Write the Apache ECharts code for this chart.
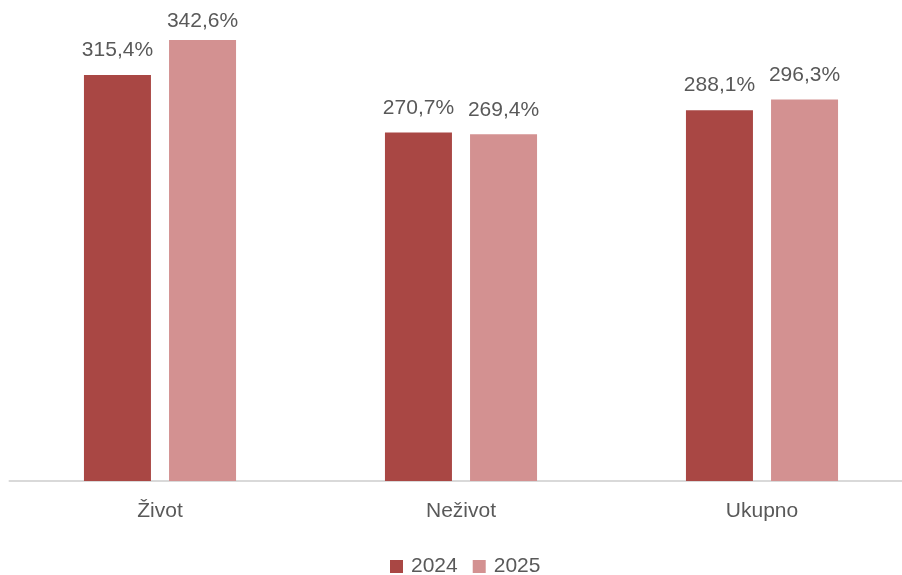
<!DOCTYPE html>
<html><head><meta charset="utf-8">
<script src="https://cdn.jsdelivr.net/npm/echarts@6/dist/echarts.min.js"></script>
<style>html,body{margin:0;padding:0;background:#fff}#c{width:902px;height:575px}</style>
</head><body><div id="c"></div>
<script>
const categories = ['Život', 'Neživot', 'Ukupno'];
const seriesNames = ['2024', '2025'];
const values2024 = [315.4, 270.7, 288.1];
const values2025 = [342.6, 269.4, 296.3];

const fmt = p => p.value.toFixed(1).replace('.', ',') + '%';
const font = 'Liberation Sans, Arial, sans-serif';
// labels near the top edge are pulled closer to the bar (kept inside the plot area)
const toData = arr => arr.map(v => v > 335 ? { value: v, label: { distance: 8 } } : v);
const labelStyle = { show: true, position: 'top', distance: 14, formatter: fmt, fontSize: 21, color: '#595959', fontFamily: font };
const chart = echarts.init(document.getElementById('c'));
chart.setOption({
  animation: false,
  textStyle: { fontFamily: font },
  grid: { left: 9.5, width: 903, top: 30.5, bottom: 94, outerBoundsMode: 'none', containLabel: false },
  legend: {
    data: seriesNames, top: 551, left: 385, itemWidth: 13, itemHeight: 13, itemGap: 15,
    icon: 'rect', textStyle: { fontSize: 21, color: '#595959', fontFamily: font, padding: [0, 0, 0, 3] }
  },
  xAxis: {
    type: 'category', data: categories,
    axisLine: { lineStyle: { color: '#d9d9d9', width: 2 } },
    axisTick: { show: false },
    axisLabel: { fontSize: 21, color: '#595959', margin: 20, fontFamily: font }
  },
  yAxis: { type: 'value', min: 0, max: 350, show: false, splitLine: { show: false } },
  series: [
    { name: seriesNames[0], type: 'bar', data: toData(values2024), barWidth: 67, barGap: '27%',
      itemStyle: { color: '#A94744' }, label: labelStyle },
    { name: seriesNames[1], type: 'bar', data: toData(values2025), barWidth: 67,
      itemStyle: { color: '#D39191' }, label: labelStyle }
  ]
});
</script></body></html>
